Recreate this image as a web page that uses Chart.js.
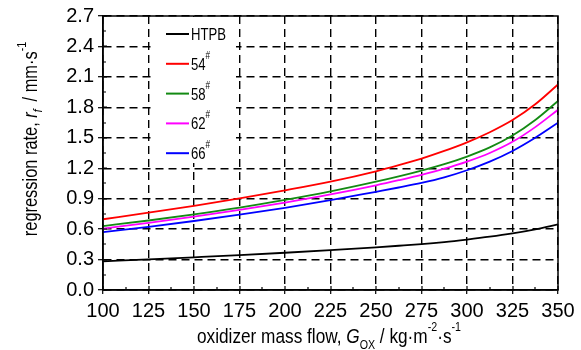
<!DOCTYPE html>
<html>
<head>
<meta charset="utf-8">
<script src="https://cdn.jsdelivr.net/npm/chart.js@4.4.1/dist/chart.umd.min.js"></script>
<style>
html,body{margin:0;padding:0;background:#fff;}
#wrap{width:581px;height:350px;}
</style>
</head>
<body>
<div id="wrap"><canvas id="chart" width="581" height="350"></canvas></div>
<script>
'use strict';
// oxidizer mass flow (kg/m2/s) and regression rates (mm/s)
const GOX  = [100, 125, 150, 175, 200, 225, 250, 262.5, 275, 287.5, 300, 312.5, 325, 337.5, 350];
const HTPB = [0.283, 0.302, 0.322, 0.343, 0.367, 0.393, 0.421, 0.436, 0.452, 0.472, 0.497, 0.525, 0.558, 0.598, 0.647];
const R54  = [0.697, 0.762, 0.830, 0.902, 0.982, 1.068, 1.17, 1.23, 1.295, 1.37, 1.455, 1.555, 1.675, 1.83, 2.025];
const R58  = [0.63, 0.685, 0.745, 0.812, 0.888, 0.972, 1.068, 1.12, 1.177, 1.24, 1.315, 1.405, 1.522, 1.675, 1.862];
const R62  = [0.605, 0.662, 0.724, 0.79, 0.862, 0.942, 1.032, 1.082, 1.135, 1.195, 1.265, 1.35, 1.46, 1.605, 1.776];
const R66  = [0.571, 0.623, 0.68, 0.742, 0.81, 0.885, 0.968, 1.01, 1.055, 1.11, 1.18, 1.265, 1.37, 1.5, 1.648];
const names  = ["HTPB", "54", "58", "62", "66"];
const marks  = ["", "#", "#", "#", "#"];
const colors = ["#000000", "#ff0000", "#138a13", "#ff00ff", "#0000ff"];
const xRange = [100, 350, 25];
const yRange = [0, 2.7, 0.3];

const FONT = "'Liberation Sans', Arial, sans-serif";
const NARROW = 0.82;

const series = [HTPB, R54, R58, R62, R66];

// draws a string made of pieces (italic, sub, superscript), squeezed horizontally
const drawRich = (ctx, parts, x, y, align) => {
	let w = 0;
	parts.forEach(p => {
		ctx.font = (p.it ? "italic " : "") + p.sz + "px " + FONT;
		p.w = ctx.measureText(p.t).width;
		w += p.w + (p.gap || 0);
	});
	ctx.save();
	ctx.translate(x, y);
	ctx.scale(NARROW, 1);
	let cx = align === "left" ? 0 : -w / 2;
	ctx.textBaseline = "alphabetic";
	ctx.textAlign = "left";
	parts.forEach(p => {
		ctx.font = (p.it ? "italic " : "") + p.sz + "px " + FONT;
		ctx.fillText(p.t, cx, p.dy || 0);
		cx += p.w + (p.gap || 0);
	});
	ctx.restore();
};

const decor = {
	id: "decor",
	beforeDatasetsDraw(chart) {
		const ctx = chart.ctx;
		ctx.save();
		// legend box
		ctx.fillStyle = "#fff";
		ctx.fillRect(152, 17, 84, 146);
		for (let i = 0; i < names.length; i++) {
			let y = 34 + i * 29.8;
			ctx.strokeStyle = colors[i];
			ctx.lineWidth = 2;
			ctx.beginPath();
			ctx.moveTo(166, y);
			ctx.lineTo(189, y);
			ctx.stroke();
			ctx.fillStyle = "#000";
			let parts = [{t: names[i], sz: 16}];
			if (marks[i]) parts.push({t: marks[i], sz: 10, dy: -11, gap: 0});
			drawRich(ctx, parts, 191, y + 6, "left");
		}
		ctx.restore();
	},
	afterDraw(chart) {
		const ctx = chart.ctx,
			a = chart.chartArea,
			xs = chart.scales.x,
			ys = chart.scales.y;
		ctx.save();
		ctx.strokeStyle = "#000";
		ctx.lineWidth = 1.5;
		ctx.strokeRect(a.left, a.top, a.right - a.left, a.bottom - a.top);
		// ticks inside the frame, major and minor
		ctx.lineWidth = 1.2;
		ctx.beginPath();
		for (let v = xRange[0]; v <= xRange[1] + 0.01; v += xRange[2] / 2) {
			let px = Math.round(xs.getPixelForValue(v));
			let major = Math.abs((v - xRange[0]) % xRange[2]) < 0.01;
			ctx.moveTo(px, a.bottom);
			ctx.lineTo(px, a.bottom - (major ? 4 : 3));
		}
		for (let k = 0; k <= 18; k++) {
			let v = k * yRange[2] / 2;
			let py = Math.round(ys.getPixelForValue(v));
			ctx.moveTo(a.left, py);
			ctx.lineTo(a.left + (k % 2 === 0 ? 4 : 3), py);
		}
		ctx.stroke();
		// axis titles
		ctx.fillStyle = "#000";
		drawRich(ctx, [
			{t: "oxidizer mass flow, ", sz: 21},
			{t: "G", sz: 21, it: true},
			{t: "OX", sz: 13, dy: 6},
			{t: " / kg\u00b7m", sz: 21},
			{t: "-2", sz: 13, dy: -12},
			{t: "\u00b7s", sz: 21},
			{t: "-1", sz: 13, dy: -12}
		], 329, 343);
		ctx.translate(37, 139);
		ctx.rotate(-Math.PI / 2);
		drawRich(ctx, [
			{t: "regression rate, ", sz: 20},
			{t: "r", sz: 20, it: true},
			{t: "f", sz: 13, it: true, dy: 5, gap: 4},
			{t: " / mm\u00b7s", sz: 20},
			{t: "-1", sz: 13, dy: -11}
		], 0, 0);
		ctx.restore();
	}
};

const load = () => {
	const ctx = document.getElementById("chart").getContext("2d");
	new Chart(ctx, {
		type: "line",
		data: {
			datasets: series.map((s, i) => ({
				label: names[i] + marks[i],
				data: GOX.map((g, j) => ({x: g, y: s[j]})),
				borderColor: colors[i],
				borderWidth: 1.8,
				pointRadius: 0,
				fill: false,
				cubicInterpolationMode: "monotone"
			}))
		},
		options: {
			responsive: false,
			animation: false,
			layout: {padding: {top: 16, right: 23, left: 0, bottom: 0}},
			plugins: {legend: {display: false}, tooltip: {enabled: false}},
			scales: {
				x: {
					type: "linear",
					min: xRange[0], max: xRange[1],
					afterFit: s => { s.height = 60; },
					ticks: {stepSize: xRange[2], color: "#000", padding: 5, font: {family: FONT, size: 20}},
					grid: {color: "#000", lineWidth: 1.4, tickLength: 4, tickWidth: 1.2, tickColor: "#000"},
					border: {color: "#000", width: 1.5, dash: [8, 5]}
				},
				y: {
					min: yRange[0], max: yRange[1],
					afterFit: s => { s.width = 103; },
					ticks: {stepSize: yRange[2], color: "#000", padding: 4, font: {family: FONT, size: 20},
						callback: v => v.toFixed(1)},
					grid: {color: "#000", lineWidth: 1.4, tickLength: 5, tickWidth: 1.2, tickColor: "#000"},
					border: {color: "#000", width: 1.5, dash: [8, 5]}
				}
			}
		},
		plugins: [decor]
	});
};
window.addEventListener("load", () => load());
</script>
</body>
</html>
